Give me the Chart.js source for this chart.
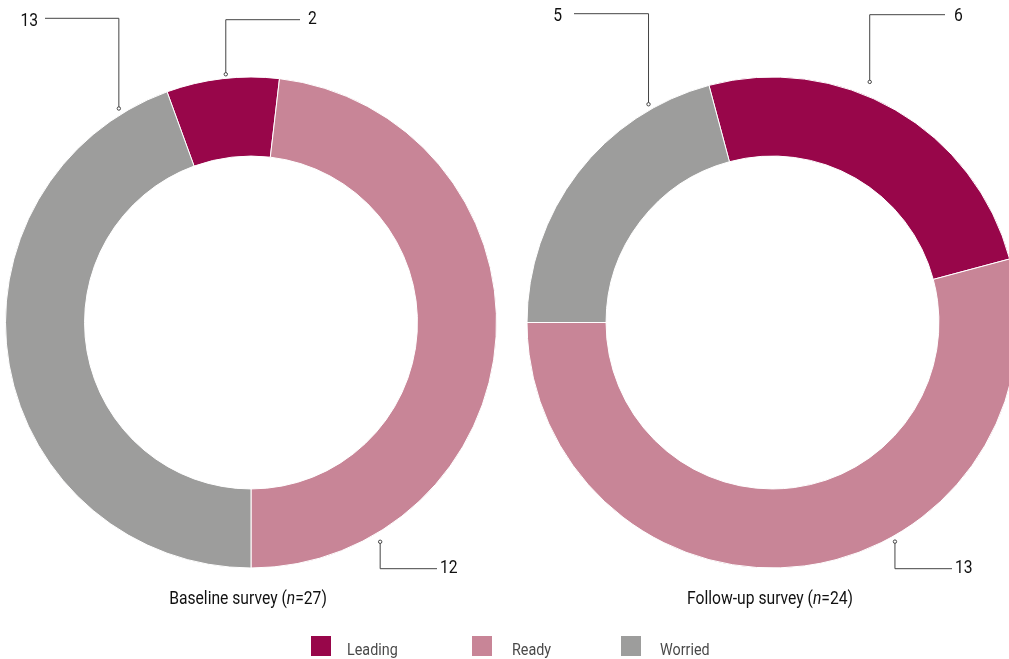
<!DOCTYPE html>
<html>
<head>
<meta charset="utf-8">
<script src="https://cdn.jsdelivr.net/npm/chart.js@4"></script>
<style>
  html, body { margin: 0; padding: 0; background: #fff; }
  #wrap { position: relative; width: 1009px; height: 659px; overflow: hidden; }
  #wrap canvas { position: absolute; left: 0; top: 0; }
</style>
</head>
<body>
<div id="wrap">
  <canvas id="baselineChart" width="1009" height="659"></canvas>
  <canvas id="followUpChart" width="1009" height="659"></canvas>
</div>
<script>
// data
const categories = ['Leading', 'Ready', 'Worried'];
const colors = ['#98064a', '#c88597', '#9d9d9c'];
const surveyNames = ['Baseline survey', 'Follow-up survey'];
const sampleSizes = [27, 24];
const baselineValues = [2, 13, 12];
const followUpValues = [6, 13, 5];
// callout texts as printed (Leading, Ready, Worried)
const baselineCallouts = ['2', '12', '13'];
const followUpCallouts = ['6', '13', '5'];

const FONT = 'Roboto, "Noto Sans", sans-serif';
const SQUEEZE = 0.87;
const RADIUS = 245.5;

// callout geometry: angle from top (deg, clockwise), distance beyond outer edge,
// elbow y, horizontal end x, label x / side, label y shift
const baselineLayout = [
  { angle: -5.8, gap: 4, elbowY: 19.7, endX: 300, labelX: 308, align: 'left', dy: -0.5 },
  { angle: 149.5, gap: 9, elbowY: 568.7, endX: 437, labelX: 440, align: 'left', dy: 0 },
  { angle: -31.7, gap: 6, elbowY: 18.3, endX: 45, labelX: 38, align: 'right', dy: 3 }
];
const followUpLayout = [
  { angle: 22, gap: 14, elbowY: 14.7, endX: 945, labelX: 954, align: 'left', dy: 2 },
  { angle: 150.8, gap: 5.5, elbowY: 568.7, endX: 952, labelX: 955, align: 'left', dy: 0 },
  { angle: -29.6, gap: 5.5, elbowY: 13.7, endX: 574, labelX: 562, align: 'right', dy: 3 }
];

function squeezedText(ctx, text, x, y, align) {
  const w = ctx.measureText(text).width * SQUEEZE;
  let sx = x;
  if (align === 'right') sx = x - w;
  if (align === 'center') sx = x - w / 2;
  ctx.save();
  ctx.translate(sx, y);
  ctx.scale(SQUEEZE, 1);
  ctx.textAlign = 'left';
  ctx.fillText(text, 0, 0);
  ctx.restore();
}

function drawTitle(ctx, name, n, cx, baseline) {
  const parts = [
    [name + ' (', 'normal'],
    ['n', 'italic'],
    ['=' + n + ')', 'normal']
  ];
  const size = '18px ';
  let total = 0;
  parts.forEach(p => {
    ctx.font = p[1] + ' ' + size + FONT;
    total += ctx.measureText(p[0]).width * SQUEEZE;
  });
  let x = cx - total / 2;
  ctx.fillStyle = '#111';
  ctx.textBaseline = 'alphabetic';
  parts.forEach(p => {
    ctx.font = p[1] + ' ' + size + FONT;
    squeezedText(ctx, p[0], x, baseline, 'left');
    x += ctx.measureText(p[0]).width * SQUEEZE;
  });
}

function calloutPlugin(texts, layout, titleIdx, titleX, withLegend) {
  return {
    id: 'callouts' + titleIdx,
    afterDraw(chart) {
      const ctx = chart.ctx;
      const arcs = chart.getDatasetMeta(0).data;
      ctx.save();
      layout.forEach((c, i) => {
        const arc = arcs[i];
        const r = arc.outerRadius + c.gap;
        const a = c.angle * Math.PI / 180;
        const px = arc.x + r * Math.sin(a);
        const py = arc.y - r * Math.cos(a);
        ctx.strokeStyle = '#444';
        ctx.lineWidth = 1;
        ctx.beginPath();
        ctx.moveTo(px, py);
        ctx.lineTo(px, c.elbowY);
        ctx.lineTo(c.endX, c.elbowY);
        ctx.stroke();
        ctx.beginPath();
        ctx.arc(px, py, 1.7, 0, Math.PI * 2);
        ctx.fillStyle = '#fff';
        ctx.fill();
        ctx.stroke();
        ctx.fillStyle = '#111';
        ctx.font = '18px ' + FONT;
        ctx.textBaseline = 'middle';
        squeezedText(ctx, texts[i], c.labelX, c.elbowY + c.dy, c.align);
      });
      drawTitle(ctx, surveyNames[titleIdx], sampleSizes[titleIdx], titleX, 604);
      if (withLegend) {
        const boxX = [311, 472, 621];
        const textX = [347, 512, 660];
        categories.forEach((name, i) => {
          ctx.fillStyle = colors[i];
          ctx.fillRect(boxX[i], 636, 20, 20);
          ctx.fillStyle = '#4a4a4a';
          ctx.font = '16.5px ' + FONT;
          ctx.textBaseline = 'alphabetic';
          squeezedText(ctx, name, textX[i], 655, 'left');
        });
      }
      ctx.restore();
    }
  };
}

function makeChart(id, values, rotation, padding, plugin) {
  return new Chart(document.getElementById(id), {
    type: 'doughnut',
    data: {
      labels: categories,
      datasets: [{
        data: values,
        backgroundColor: colors,
        borderColor: '#fff',
        borderWidth: 1,
        clip: false
      }]
    },
    options: {
      responsive: false,
      animation: false,
      events: [],
      radius: RADIUS,
      cutout: '67.8%',
      rotation: rotation,
      layout: { padding: padding },
      plugins: {
        legend: { display: false },
        tooltip: { enabled: false }
      }
    },
    plugins: [plugin]
  });
}

makeChart('baselineChart', baselineValues, -20,
  { left: 0, top: 0, right: 507, bottom: 14 },
  calloutPlugin(baselineCallouts, baselineLayout, 0, 248, true));

makeChart('followUpChart', followUpValues, -15,
  { left: 536, top: 0, right: 0, bottom: 14 },
  calloutPlugin(followUpCallouts, followUpLayout, 1, 770, false));
</script>
</body>
</html>
